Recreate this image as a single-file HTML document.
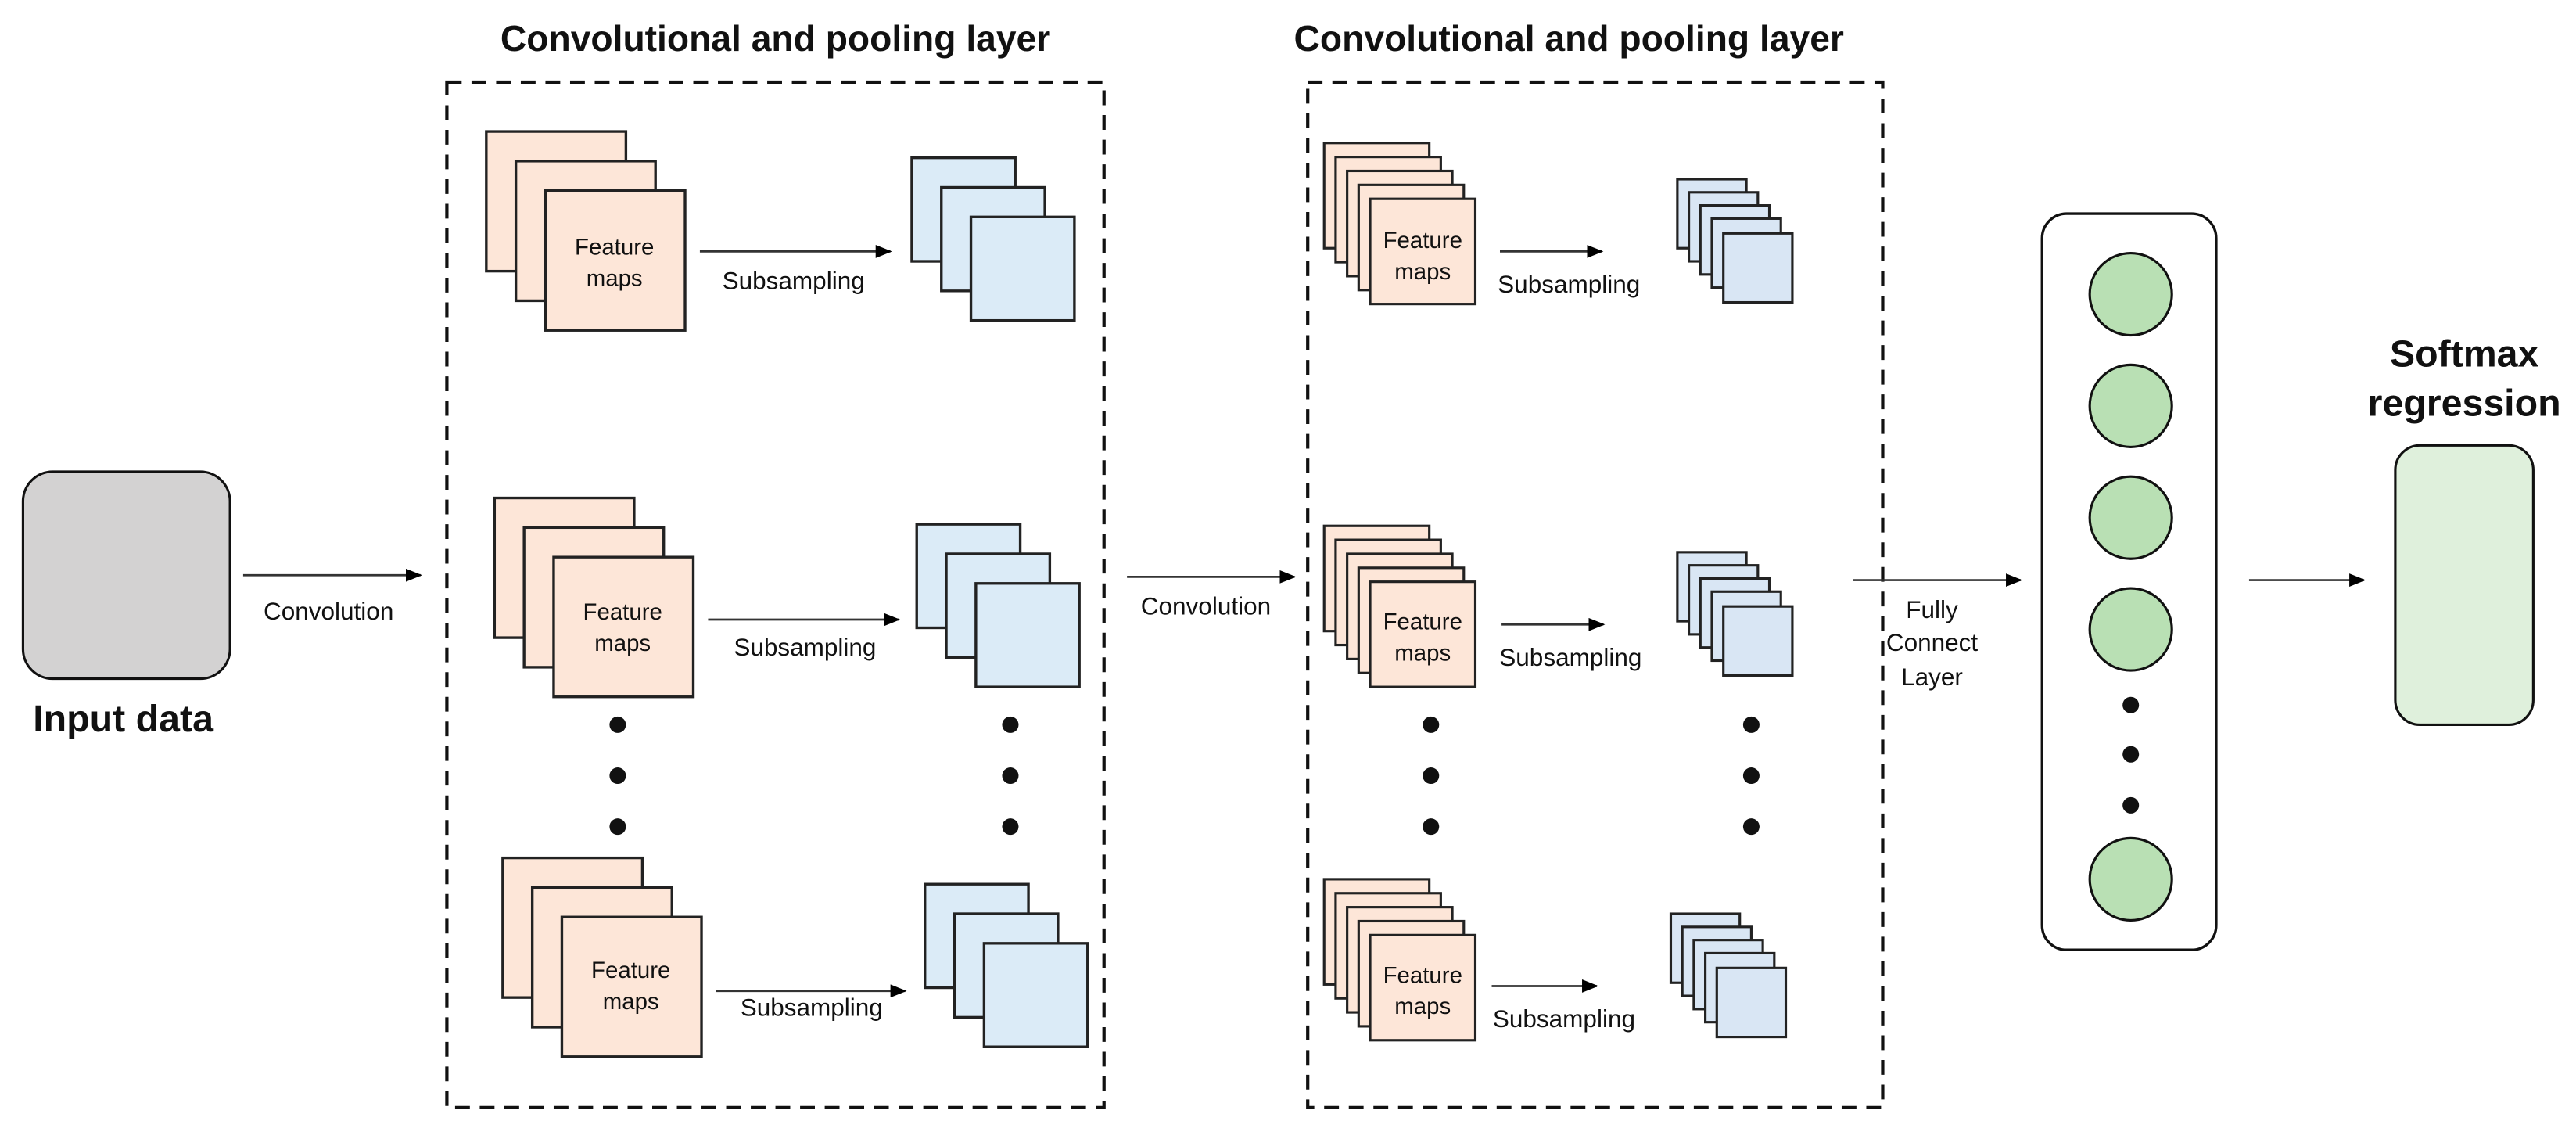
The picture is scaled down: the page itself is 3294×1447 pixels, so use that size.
<!DOCTYPE html>
<html><head><meta charset="utf-8"><style>
html,body{margin:0;padding:0;background:#fff;}
svg{display:block;}
text{font-family:"Liberation Sans",sans-serif;fill:#111;}
</style></head><body>
<svg width="3294" height="1447" viewBox="0 0 1568 688.8" xmlns="http://www.w3.org/2000/svg">
<defs>
<marker id="ah" markerWidth="10" markerHeight="8" refX="9" refY="4" orient="auto" markerUnits="userSpaceOnUse">
<path d="M0,0 L10,4 L0,8 z" fill="#000"/></marker>
</defs>
<rect width="1568" height="689" fill="#fff"/>

<!-- Input -->
<rect x="14" y="287" width="126" height="126" rx="18" fill="#d3d2d2" stroke="#111" stroke-width="1.5"/>
<text x="75" y="445" font-size="23" font-weight="bold" text-anchor="middle">Input data</text>
<line x1="148" y1="350" x2="256" y2="350" stroke="#333" stroke-width="1.3" marker-end="url(#ah)"/>
<text x="200" y="377" font-size="15" text-anchor="middle">Convolution</text>

<!-- Titles -->
<text x="472" y="31" font-size="22" font-weight="bold" text-anchor="middle">Convolutional and pooling layer</text>
<text x="955" y="31" font-size="22" font-weight="bold" text-anchor="middle">Convolutional and pooling layer</text>

<!-- Dashed boxes -->
<rect x="272" y="50" width="400" height="624" fill="none" stroke="#111" stroke-width="2" stroke-dasharray="9,6"/>
<rect x="796" y="50" width="350" height="624" fill="none" stroke="#111" stroke-width="2" stroke-dasharray="9,6"/>

<g stroke="#222" stroke-width="1.6">
<!-- Box1 row1 -->
<rect x="296" y="80" width="85" height="85" fill="#fde6d8"/>
<rect x="314" y="98" width="85" height="85" fill="#fde6d8"/>
<rect x="332" y="116" width="85" height="85" fill="#fde6d8"/>
<rect x="555" y="96" width="63" height="63" fill="#dbebf7"/>
<rect x="573" y="114" width="63" height="63" fill="#dbebf7"/>
<rect x="591" y="132" width="63" height="63" fill="#dbebf7"/>
<!-- Box1 row2 -->
<rect x="301" y="303" width="85" height="85" fill="#fde6d8"/>
<rect x="319" y="321" width="85" height="85" fill="#fde6d8"/>
<rect x="337" y="339" width="85" height="85" fill="#fde6d8"/>
<rect x="558" y="319" width="63" height="63" fill="#dbebf7"/>
<rect x="576" y="337" width="63" height="63" fill="#dbebf7"/>
<rect x="594" y="355" width="63" height="63" fill="#dbebf7"/>
<!-- Box1 row3 -->
<rect x="306" y="522" width="85" height="85" fill="#fde6d8"/>
<rect x="324" y="540" width="85" height="85" fill="#fde6d8"/>
<rect x="342" y="558" width="85" height="85" fill="#fde6d8"/>
<rect x="563" y="538" width="63" height="63" fill="#dbebf7"/>
<rect x="581" y="556" width="63" height="63" fill="#dbebf7"/>
<rect x="599" y="574" width="63" height="63" fill="#dbebf7"/>
</g>
<g font-size="14" text-anchor="middle">
<text x="374" y="155">Feature</text><text x="374" y="174">maps</text>
<text x="379" y="377">Feature</text><text x="379" y="396">maps</text>
<text x="384" y="595">Feature</text><text x="384" y="614">maps</text>
<text x="483" y="176" font-size="15">Subsampling</text>
<text x="490" y="399" font-size="15">Subsampling</text>
<text x="494" y="618" font-size="15">Subsampling</text>
</g>
<g stroke="#333" stroke-width="1.3">
<line x1="426" y1="153" x2="542" y2="153" marker-end="url(#ah)"/>
<line x1="431" y1="377" x2="547" y2="377" marker-end="url(#ah)"/>
<line x1="436" y1="603" x2="551" y2="603" marker-end="url(#ah)"/>
</g>
<g fill="#111">
<circle cx="376" cy="441" r="5"/><circle cx="376" cy="472" r="5"/><circle cx="376" cy="503" r="5"/>
<circle cx="615" cy="441" r="5"/><circle cx="615" cy="472" r="5"/><circle cx="615" cy="503" r="5"/>
<circle cx="871" cy="441" r="5"/><circle cx="871" cy="472" r="5"/><circle cx="871" cy="503" r="5"/>
<circle cx="1066" cy="441" r="5"/><circle cx="1066" cy="472" r="5"/><circle cx="1066" cy="503" r="5"/>
</g>

<!-- Convolution 2 -->
<line x1="686" y1="351" x2="788" y2="351" stroke="#333" stroke-width="1.3" marker-end="url(#ah)"/>
<text x="734" y="374" font-size="15" text-anchor="middle">Convolution</text>

<!-- Box2 stacks -->
<g stroke="#222" stroke-width="1.5">
<g fill="#fde6d8">
<rect x="806" y="87" width="64" height="64"/><rect x="813" y="95.5" width="64" height="64"/><rect x="820" y="104" width="64" height="64"/><rect x="827" y="112.5" width="64" height="64"/><rect x="834" y="121" width="64" height="64"/>
<rect x="806" y="320" width="64" height="64"/><rect x="813" y="328.5" width="64" height="64"/><rect x="820" y="337" width="64" height="64"/><rect x="827" y="345.5" width="64" height="64"/><rect x="834" y="354" width="64" height="64"/>
<rect x="806" y="535" width="64" height="64"/><rect x="813" y="543.5" width="64" height="64"/><rect x="820" y="552" width="64" height="64"/><rect x="827" y="560.5" width="64" height="64"/><rect x="834" y="569" width="64" height="64"/>
</g>
<g fill="#d9e6f4">
<rect x="1021" y="109" width="42" height="42"/><rect x="1028" y="117" width="42" height="42"/><rect x="1035" y="125" width="42" height="42"/><rect x="1042" y="133" width="42" height="42"/><rect x="1049" y="142" width="42" height="42"/>
<rect x="1021" y="336" width="42" height="42"/><rect x="1028" y="344" width="42" height="42"/><rect x="1035" y="352" width="42" height="42"/><rect x="1042" y="360" width="42" height="42"/><rect x="1049" y="369" width="42" height="42"/>
<rect x="1017" y="556" width="42" height="42"/><rect x="1024" y="564" width="42" height="42"/><rect x="1031" y="572" width="42" height="42"/><rect x="1038" y="580" width="42" height="42"/><rect x="1045" y="589" width="42" height="42"/>
</g>
</g>
<g font-size="14" text-anchor="middle">
<text x="866" y="151">Feature</text><text x="866" y="170">maps</text>
<text x="866" y="383">Feature</text><text x="866" y="402">maps</text>
<text x="866" y="598">Feature</text><text x="866" y="617">maps</text>
<text x="955" y="178" font-size="15">Subsampling</text>
<text x="956" y="405" font-size="15">Subsampling</text>
<text x="952" y="625" font-size="15">Subsampling</text>
</g>
<g stroke="#333" stroke-width="1.3">
<line x1="913" y1="153" x2="975" y2="153" marker-end="url(#ah)"/>
<line x1="914" y1="380" x2="976" y2="380" marker-end="url(#ah)"/>
<line x1="908" y1="600" x2="972" y2="600" marker-end="url(#ah)"/>
</g>

<!-- FC -->
<line x1="1128" y1="353" x2="1230" y2="353" stroke="#333" stroke-width="1.3" marker-end="url(#ah)"/>
<g font-size="15" text-anchor="middle">
<text x="1176" y="376">Fully</text><text x="1176" y="396">Connect</text><text x="1176" y="417">Layer</text>
</g>
<rect x="1243" y="130" width="106" height="448" rx="15" fill="#fff" stroke="#111" stroke-width="1.6"/>
<g fill="#b9e0b4" stroke="#111" stroke-width="1.5">
<circle cx="1297" cy="179" r="25"/><circle cx="1297" cy="247" r="25"/><circle cx="1297" cy="315" r="25"/><circle cx="1297" cy="383" r="25"/><circle cx="1297" cy="535" r="25"/>
</g>
<g fill="#111"><circle cx="1297" cy="429" r="5"/><circle cx="1297" cy="459" r="5"/><circle cx="1297" cy="490" r="5"/></g>

<line x1="1369" y1="353" x2="1439" y2="353" stroke="#333" stroke-width="1.3" marker-end="url(#ah)"/>
<text x="1500" y="223" font-size="23" font-weight="bold" text-anchor="middle">Softmax</text>
<text x="1500" y="253" font-size="23" font-weight="bold" text-anchor="middle">regression</text>
<rect x="1458" y="271" width="84" height="170" rx="15" fill="#dff0dc" stroke="#111" stroke-width="1.5"/>
</svg>
</body></html>
